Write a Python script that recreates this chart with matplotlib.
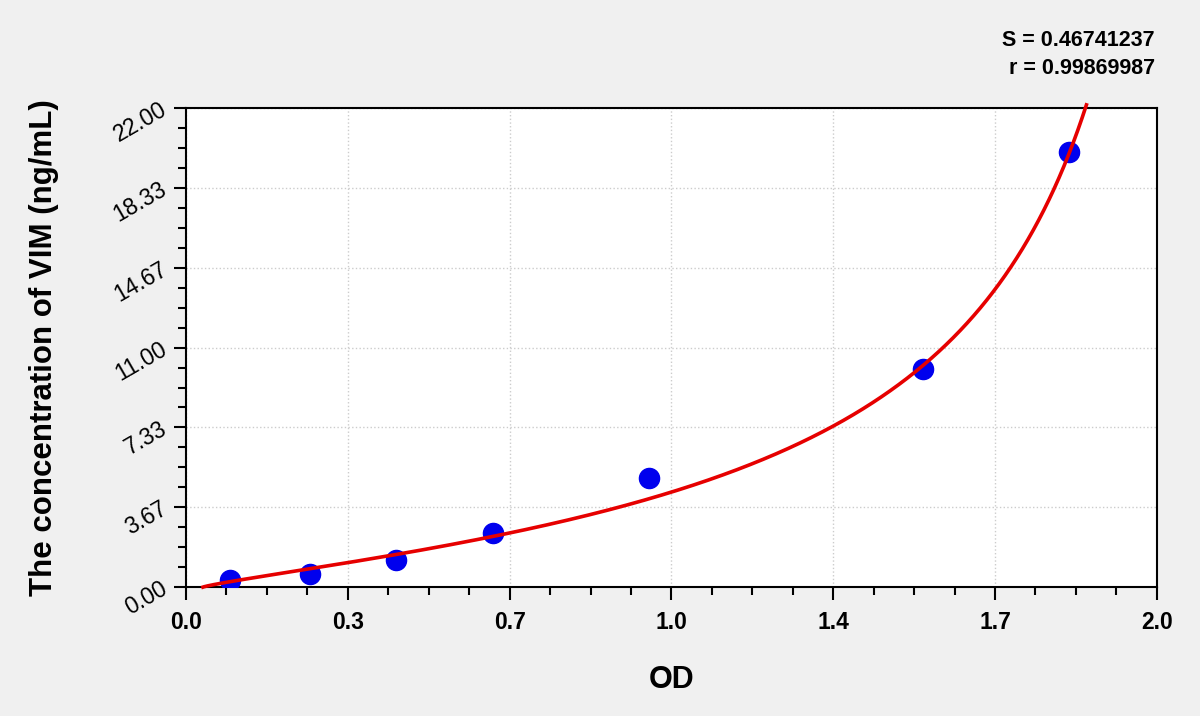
import numpy as np
import matplotlib
matplotlib.use('Agg')
import matplotlib.pyplot as plt
from matplotlib.ticker import AutoMinorLocator

plt.rcParams['font.family'] = ['Liberation Sans', 'DejaVu Sans']

# standards
od = np.array([0.091, 0.255, 0.433, 0.633, 0.954, 1.519, 1.819])
conc = np.array([0.312, 0.625, 1.25, 2.5, 5.0, 10.0, 20.0])

x_ticks = [0, 1/3, 2/3, 1, 4/3, 5/3, 2]
x_labels = ['0.0', '0.3', '0.7', '1.0', '1.4', '1.7', '2.0']
y_ticks = [0, 22/6, 44/6, 11, 88/6, 110/6, 22]
y_labels = ['0.00', '3.67', '7.33', '11.00', '14.67', '18.33', '22.00']

stat_s = 'S = 0.46741237'
stat_r = 'r = 0.99869987'


def fit_4pl(x, y):
    # conc = c * ((x - a) / (d - x)) ** k, brute force on a and d
    best = None
    for a in np.linspace(0.0, 0.085, 86):
        for d in np.linspace(1.83, 3.5, 168):
            u = np.log((x - a) / (d - x))
            k, m = np.polyfit(u, np.log(y), 1)
            pred = np.exp(m) * ((x - a) / (d - x)) ** k
            err = np.sum((pred - y) ** 2)
            if best is None or err < best[0]:
                best = (err, a, d, k, np.exp(m))
    return best[1:]


a, d, k, c = fit_4pl(od, conc)
xs = np.linspace(a + 1e-6, d - 1e-6, 4000)
ys = c * ((xs - a) / (d - xs)) ** k
keep = ys <= 22.15
xs, ys = xs[keep], ys[keep]

fig = plt.figure(figsize=(12, 7.16), dpi=100, facecolor='#f0f0f0')
ax = fig.add_axes([0.155, 0.180, 0.809, 0.669])
ax.set_facecolor('white')

ax.plot(od, conc, 'o', color='#0000ee', markersize=14.5, zorder=3)
ax.plot(xs, ys, color='#e60000', linewidth=2.6, zorder=4, clip_on=False)

ax.set_xlim(0, 2)
ax.set_ylim(0, 22)
ax.set_xticks(x_ticks)
ax.set_xticklabels(x_labels, fontsize=16.5, fontweight='bold')
ax.set_yticks(y_ticks)
ax.set_yticklabels(y_labels, fontsize=16.5)
for lab in ax.get_yticklabels():
    lab.set_rotation(30)
    lab.set_rotation_mode('anchor')
    lab.set_ha('right')
    lab.set_va('center')
ax.xaxis.set_minor_locator(AutoMinorLocator(4))
ax.yaxis.set_minor_locator(AutoMinorLocator(4))
ax.tick_params(which='major', direction='out', length=9, width=1.5)
ax.tick_params(axis='x', which='major', pad=8)
ax.tick_params(axis='y', which='major', pad=6)
ax.tick_params(which='minor', direction='out', length=6, width=1.5)
ax.grid(which='major', color='#cccccc', linestyle=':', linewidth=1)
for s in ax.spines.values():
    s.set_linewidth(1.5)

ax.set_xlabel('OD', fontsize=22, fontweight='bold')
ax.xaxis.set_label_coords(0.5, -0.194)
ax.xaxis.label.set_va('center')
ax.set_ylabel('The concentration of VIM (ng/mL)', fontsize=22.5, fontweight='bold')
ax.yaxis.set_label_coords(-0.146, 0.5)
ax.yaxis.label.set_va('center')

fig.text(0.9625, 0.944, stat_s, ha='right', va='center', fontsize=15.5, fontweight='bold')
fig.text(0.9625, 0.905, stat_r, ha='right', va='center', fontsize=15.5, fontweight='bold')

fig.savefig('out.png', dpi=100, facecolor=fig.get_facecolor())
